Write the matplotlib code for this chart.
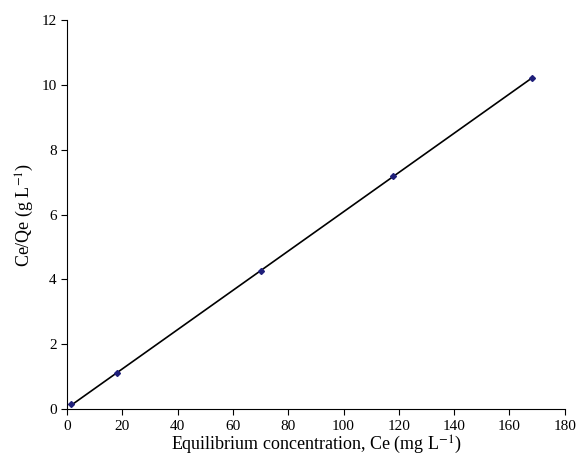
import numpy as np
import matplotlib.pyplot as plt

plt.rcParams['font.family'] = ['Liberation Serif', 'DejaVu Serif']
plt.rcParams['mathtext.fontset'] = 'stix'

ce = [1.5, 18, 70, 118, 168]
ce_qe = [0.15, 1.1, 4.25, 7.2, 10.2]

fig = plt.figure(figsize=(5.84, 4.66), dpi=100)
ax = fig.add_axes([0.115, 0.122, 0.852, 0.835])

slope, icpt = np.polyfit(ce, ce_qe, 1)
xf = np.array([min(ce), max(ce)])
ax.plot(xf, slope * xf + icpt, color='black', lw=1.2)
ax.plot(ce, ce_qe, 'D', color='#1f1f7a', ms=3)

ax.set_xlim(0, 180)
ax.set_ylim(0, 12)
ax.set_xticks(range(0, 181, 20))
ax.set_yticks(range(0, 13, 2))
for s in ['top', 'right']:
    ax.spines[s].set_visible(False)
ax.tick_params(labelsize=11, direction='out', length=4)
ax.set_xlabel('Equilibrium concentration, Ce (mg L$^{-1}$)', fontsize=13, labelpad=1)
ax.set_ylabel('Ce/Qe (g L$^{-1}$)', fontsize=13)

fig.savefig('out.png', dpi=100)
